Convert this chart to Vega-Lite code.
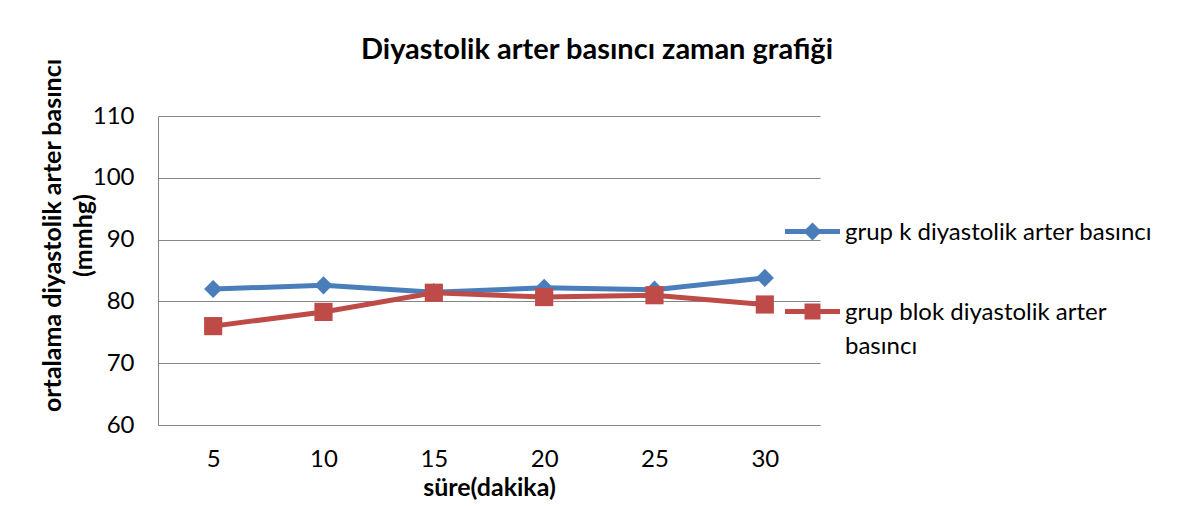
{
  "$schema": "https://vega.github.io/schema/vega-lite/v6.json",
  "width": 662,
  "height": 309,
  "autosize": {"type": "none"},
  "padding": {"left": 158, "top": 116, "right": 377, "bottom": 83},
  "background": "white",
  "config": {
    "font": "Lato",
    "view": {"stroke": null}
  },
  "title": {
    "text": "Diyastolik arter basıncı zaman grafiği",
    "fontSize": 29,
    "fontWeight": "bold",
    "color": "#000000",
    "anchor": "middle",
    "dx": 108,
    "offset": -7
  },
  "data": {
    "values": [
      {"t": 5, "series": "grup k diyastolik arter basıncı", "value": 82.0},
      {"t": 10, "series": "grup k diyastolik arter basıncı", "value": 82.6},
      {"t": 15, "series": "grup k diyastolik arter basıncı", "value": 81.5},
      {"t": 20, "series": "grup k diyastolik arter basıncı", "value": 82.2},
      {"t": 25, "series": "grup k diyastolik arter basıncı", "value": 81.9},
      {"t": 30, "series": "grup k diyastolik arter basıncı", "value": 83.8},
      {"t": 5, "series": "grup blok diyastolik arter basıncı", "value": 76.0},
      {"t": 10, "series": "grup blok diyastolik arter basıncı", "value": 78.3},
      {"t": 15, "series": "grup blok diyastolik arter basıncı", "value": 81.4},
      {"t": 20, "series": "grup blok diyastolik arter basıncı", "value": 80.7},
      {"t": 25, "series": "grup blok diyastolik arter basıncı", "value": 81.0},
      {"t": 30, "series": "grup blok diyastolik arter basıncı", "value": 79.5}
    ]
  },
  "encoding": {
    "x": {
      "field": "t",
      "type": "ordinal",
      "title": "süre(dakika)",
      "axis": {
        "labelAngle": 0,
        "labelFontSize": 24,
        "labelColor": "#000000",
        "labelPadding": 22,
        "ticks": false,
        "domainColor": "#868686",
        "domainWidth": 1,
        "grid": false,
        "titleFontSize": 25,
        "titleFontWeight": "bold",
        "titleColor": "#000000",
        "titlePadding": 4
      }
    },
    "y": {
      "field": "value",
      "type": "quantitative",
      "scale": {"domain": [60, 110], "nice": false, "zero": false},
      "title": ["ortalama diyastolik arter basıncı", "(mmhg)"],
      "axis": {
        "values": [60, 70, 80, 90, 100, 110],
        "labelFontSize": 24,
        "labelColor": "#000000",
        "labelAlign": "right",
        "labelPadding": 24,
        "ticks": false,
        "domainColor": "#868686",
        "domainWidth": 1,
        "grid": true,
        "gridColor": "#868686",
        "gridWidth": 1,
        "titleFontSize": 25,
        "titleFontWeight": "bold",
        "titleColor": "#000000",
        "titleAngle": -90,
        "titleAlign": "center",
        "titleBaseline": "bottom",
        "titleLineHeight": 31,
        "titleX": -93,
        "titleY": 119
      }
    },
    "color": {
      "field": "series",
      "type": "nominal",
      "scale": {
        "domain": ["grup k diyastolik arter basıncı", "grup blok diyastolik arter basıncı"],
        "range": ["#4A7EBB", "#BE4B48"]
      },
      "legend": {
        "orient": "none",
        "legendX": 627,
        "legendY": 88,
        "title": null,
        "padding": 0,
        "symbolSize": 3025,
        "labelFontSize": 24,
        "labelColor": "#000000",
        "labelLimit": 500,
        "labelOffset": 5,
        "labelBaseline": "alphabetic",
        "rowPadding": 39,
        "labelExpr": "datum.index == 1 ? ['grup blok diyastolik arter', 'basıncı'] : datum.label",
        "encode": {
          "symbols": {
            "update": {
              "shape": {"signal": "datum.index === 0 ? 'M-1,-0.09H1V0.09H-1Z M0,-0.33L0.33,0L0,0.33L-0.33,0Z' : 'M-1,-0.09H1V0.09H-1Z M-0.29,-0.29H0.29V0.29H-0.29Z'"},
              "fill": {"scale": "color", "field": "value"},
              "stroke": {"value": "transparent"},
              "strokeWidth": {"value": 0},
              "opacity": {"value": 1}
            }
          },
          "labels": {
            "update": {
              "dy": {"value": 8},
              "lineHeight": {"value": 34}
            }
          }
        }
      }
    }
  },
  "layer": [
    {
      "mark": {"type": "line", "strokeWidth": 5}
    },
    {
      "transform": [{"filter": "datum.series === 'grup k diyastolik arter basıncı'"}],
      "mark": {"type": "point", "filled": true, "opacity": 1, "size": 330, "shape": "diamond"}
    },
    {
      "transform": [{"filter": "datum.series === 'grup blok diyastolik arter basıncı'"}],
      "mark": {"type": "point", "filled": true, "opacity": 1, "size": 330, "shape": "square"}
    }
  ]
}
